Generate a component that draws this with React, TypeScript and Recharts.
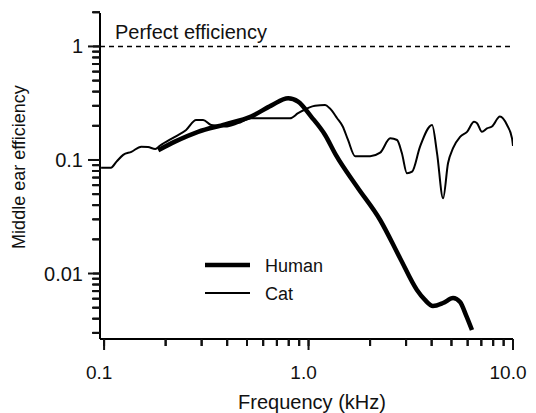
import React from 'react';
import {
  LineChart,
  Line,
  XAxis,
  YAxis,
  ReferenceLine,
  Legend
} from 'recharts';

// Frequency (kHz) and efficiency
const humanFreq = [0.184, 0.222, 0.288, 0.391, 0.523, 0.656, 0.795, 0.889, 1.03, 1.205, 1.36, 1.73, 2.24, 2.8, 3.39, 3.71, 4.06, 4.55, 5.09, 5.51, 5.89, 6.3];
const humanEff = [0.122, 0.145, 0.177, 0.206, 0.241, 0.301, 0.35, 0.327, 0.241, 0.166, 0.111, 0.0578, 0.0296, 0.0137, 0.00716, 0.00585, 0.00518, 0.0055, 0.00608, 0.00561, 0.0043, 0.00318];

const catFreq = [0.0967, 0.108, 0.115, 0.124, 0.136, 0.152, 0.164, 0.178, 0.188, 0.222, 0.252, 0.282, 0.305, 0.334, 0.391, 0.452, 0.523, 0.613, 0.812, 0.889, 1.076, 1.205, 1.27, 1.38, 1.47, 1.56, 1.69, 2.0, 2.24, 2.51, 2.71, 2.86, 3.03, 3.21, 3.51, 4.02, 4.25, 4.55, 4.81, 5.09, 5.51, 5.96, 6.45, 6.67, 7.05, 7.46, 7.89, 8.63, 9.35, 9.89, 10];
const catEff = [0.0855, 0.0855, 0.0966, 0.111, 0.118, 0.131, 0.13, 0.125, 0.134, 0.16, 0.184, 0.225, 0.225, 0.203, 0.197, 0.211, 0.233, 0.233, 0.233, 0.258, 0.301, 0.305, 0.285, 0.233, 0.197, 0.15, 0.108, 0.108, 0.116, 0.155, 0.15, 0.115, 0.0763, 0.0789, 0.131, 0.203, 0.115, 0.046, 0.0935, 0.127, 0.16, 0.177, 0.217, 0.211, 0.177, 0.19, 0.197, 0.241, 0.203, 0.155, 0.133];

const xTicks = [0.1, 0.2, 0.3, 0.4, 0.5, 0.6, 0.7, 0.8, 0.9, 1, 2, 3, 4, 5, 6, 7, 8, 9, 10];
const xMajor = [0.1, 1, 10];
const xLabels = ['0.1', '1.0', '10.0'];

const yTicks = [0.003, 0.004, 0.005, 0.006, 0.007, 0.008, 0.009, 0.01, 0.02, 0.03, 0.04, 0.05, 0.06, 0.07, 0.08, 0.09, 0.1, 0.2, 0.3, 0.4, 0.5, 0.6, 0.7, 0.8, 0.9, 1, 2];
const yMajor = [0.01, 0.1, 1];
const yLabels = ['0.01', '0.1', '1'];

const humanData = humanFreq.map((f, i) => ({ f, e: humanEff[i] }));
const catData = catFreq.map((f, i) => ({ f, e: catEff[i] }));

const FONT = '"Liberation Sans", Arial, Helvetica, sans-serif';
const SHIFT = 7;
const TICK = '#111';

// x/y arrive shifted by tickSize away from the axis line; marks drawn as rects
const XTick = ({ x, y, payload }: any) => {
  const idx = xMajor.indexOf(payload.value);
  const major = idx >= 0;
  return (
    <g>
      <rect x={x - 1} y={y - SHIFT} width={2} height={major ? 11 : 7} fill={TICK} />
      {major && (
        <text x={x - 5} y={y + 33} textAnchor="middle" fontSize={19} fontFamily={FONT} fill="#111">
          {xLabels[idx]}
        </text>
      )}
    </g>
  );
};

const YTick = ({ x, y, payload }: any) => {
  const idx = yMajor.indexOf(payload.value);
  const major = idx >= 0;
  const len = major ? 12 : 8;
  return (
    <g>
      <rect x={x + SHIFT - len} y={y - 1} width={len} height={2} fill={TICK} />
      {major && (
        <text x={x - 10} y={y + 7} textAnchor="end" fontSize={20} fontFamily={FONT} fill="#111">
          {yLabels[idx]}
        </text>
      )}
    </g>
  );
};

const LegendBox = () => (
  <svg width={140} height={56}>
    <line x1={0} x2={45} y1={13} y2={13} stroke="#000" strokeWidth={4.5} />
    <text x={60} y={19.5} fontSize={18} fontFamily={FONT} fill="#111">Human</text>
    <line x1={0} x2={45} y1={41} y2={41} stroke="#000" strokeWidth={2} />
    <text x={60} y={47.5} fontSize={18} fontFamily={FONT} fill="#111">Cat</text>
  </svg>
);

export default function App() {
  return (
    <div style={{ position: 'absolute', left: 0, top: 0 }}>
      <LineChart width={536} height={413} margin={{ top: 13, right: 23, bottom: 0, left: 0 }}>
        <XAxis
          type="number"
          dataKey="f"
          scale="log"
          domain={[0.0955, 10]}
          allowDataOverflow
          ticks={xTicks}
          interval={0}
          tick={XTick}
          tickLine={{ stroke: '#000', strokeWidth: 2 }}
          tickSize={SHIFT}
          tickMargin={0}
          height={74}
          axisLine={{ stroke: '#000', strokeWidth: 2 }}
          label={{
            content: () => (
              <text x={312} y={409} textAnchor="middle" fontSize={20} fontFamily={FONT} fill="#111">
                Frequency (kHz)
              </text>
            )
          }}
        />
        <YAxis
          type="number"
          dataKey="e"
          scale="log"
          domain={[0.00265, 1.97]}
          allowDataOverflow
          ticks={yTicks}
          interval={0}
          tick={YTick}
          tickLine={{ stroke: '#000', strokeWidth: 2 }}
          tickSize={SHIFT}
          tickMargin={0}
          width={100}
          axisLine={{ stroke: '#000', strokeWidth: 2 }}
          label={{
            content: () => (
              <text
                transform="translate(19,167) rotate(-90)"
                textAnchor="middle"
                dominantBaseline="central"
                fontSize={18}
                fontFamily={FONT}
                fill="#111"
              >
                Middle ear efficiency
              </text>
            )
          }}
        />
        <ReferenceLine
          y={1}
          stroke="#000"
          strokeWidth={1.5}
          strokeDasharray="5 4"
          label={{
            content: ({ viewBox }: any) => (
              <text x={viewBox.x + 15} y={viewBox.y - 7} fontSize={20} fontFamily={FONT} fill="#111">
                Perfect efficiency
              </text>
            )
          }}
        />
        <Legend
          layout="vertical"
          align="center"
          verticalAlign="middle"
          content={<LegendBox />}
          wrapperStyle={{ left: 205, top: 252, width: 140, height: 56 }}
        />
        <Line
          data={catData}
          dataKey="e"
          name="Cat"
          type="monotone"
          stroke="#000"
          strokeWidth={2}
          dot={false}
          isAnimationActive={false}
        />
        <Line
          data={humanData}
          dataKey="e"
          name="Human"
          type="monotone"
          stroke="#000"
          strokeWidth={4.5}
          dot={false}
          isAnimationActive={false}
        />
      </LineChart>
    </div>
  );
}
